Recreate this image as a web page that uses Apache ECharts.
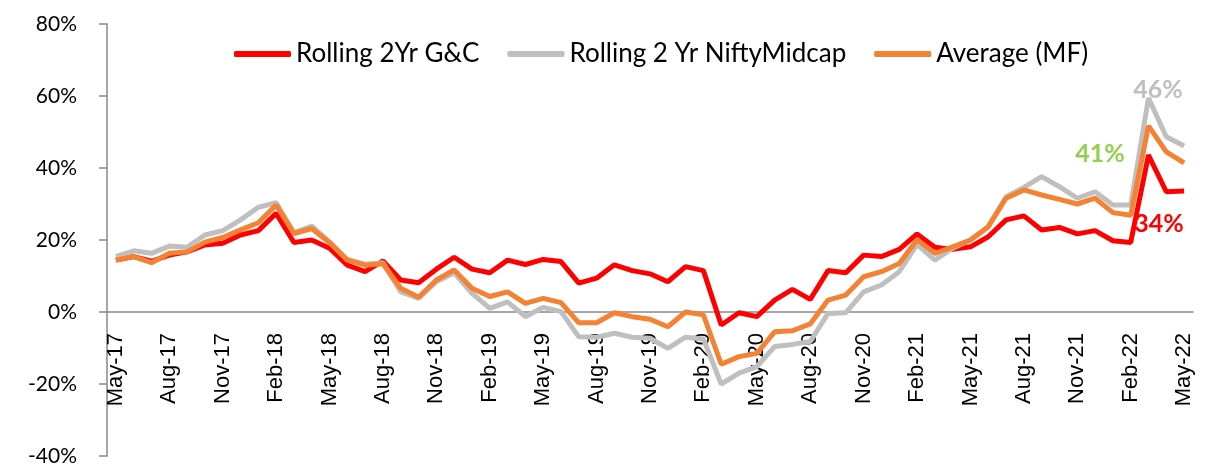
<!DOCTYPE html>
<html>
<head>
<meta charset="utf-8">
<script src="https://cdn.jsdelivr.net/npm/echarts@6/dist/echarts.min.js"></script>
<style>
  body { margin: 0; background: #fff; }
  #chart { width: 1214px; height: 476px; }
</style>
</head>
<body>
<div id="chart"></div>
<script>
const months = [
  'May-17', 'Jun-17', 'Jul-17', 'Aug-17', 'Sep-17', 'Oct-17', 'Nov-17', 'Dec-17', 'Jan-18', 'Feb-18',
  'Mar-18', 'Apr-18', 'May-18', 'Jun-18', 'Jul-18', 'Aug-18', 'Sep-18', 'Oct-18', 'Nov-18', 'Dec-18',
  'Jan-19', 'Feb-19', 'Mar-19', 'Apr-19', 'May-19', 'Jun-19', 'Jul-19', 'Aug-19', 'Sep-19', 'Oct-19',
  'Nov-19', 'Dec-19', 'Jan-20', 'Feb-20', 'Mar-20', 'Apr-20', 'May-20', 'Jun-20', 'Jul-20', 'Aug-20',
  'Sep-20', 'Oct-20', 'Nov-20', 'Dec-20', 'Jan-21', 'Feb-21', 'Mar-21', 'Apr-21', 'May-21', 'Jun-21',
  'Jul-21', 'Aug-21', 'Sep-21', 'Oct-21', 'Nov-21', 'Dec-21', 'Jan-22', 'Feb-22', 'Mar-22', 'Apr-22',
  'May-22'
];

// Rolling 2Yr G&C
const gcData = [
  14.4, 15.4, 14.1, 15.8, 16.7, 18.6, 19.1, 21.4, 22.6, 27.4,
  19.3, 20.0, 17.7, 13.0, 11.2, 14.2, 8.9, 8.1, 11.9, 15.2,
  11.9, 10.9, 14.4, 13.2, 14.6, 14.0, 8.0, 9.4, 13.1, 11.5,
  10.6, 8.4, 12.6, 11.5, -3.6, -0.2, -1.3, 3.3, 6.3, 3.5,
  11.5, 10.9, 15.8, 15.4, 17.4, 21.7, 18.0, 17.4, 18.1, 20.9,
  25.6, 26.7, 22.8, 23.5, 21.7, 22.6, 19.8, 19.3, 43.6, 33.4,
  33.6
];

// Rolling 2 Yr NiftyMidcap
const midcapData = [
  15.4, 17.0, 16.3, 18.3, 18.0, 21.4, 22.6, 25.6, 29.1, 30.4,
  22.0, 23.9, 19.4, 14.6, 13.3, 13.7, 5.6, 3.8, 8.4, 10.9,
  5.2, 1.0, 2.8, -1.3, 1.3, 0.1, -6.9, -7.0, -5.9, -7.0,
  -7.3, -10.1, -7.0, -7.5, -20.0, -17.0, -15.2, -9.6, -9.0, -8.2,
  -0.4, -0.2, 5.6, 7.5, 11.2, 18.8, 14.4, 17.7, 20.0, 23.7,
  32.0, 34.6, 37.6, 34.8, 31.6, 33.4, 29.7, 29.7, 59.4, 48.7,
  46.1
];

// Average (MF)
const avgData = [
  14.4, 15.4, 13.7, 16.3, 16.7, 19.4, 20.7, 22.8, 24.8, 29.7,
  21.8, 23.2, 19.3, 14.4, 13.0, 13.4, 6.6, 4.1, 8.9, 11.7,
  6.6, 4.3, 5.6, 2.4, 3.8, 2.6, -3.0, -3.0, -0.2, -1.3,
  -2.0, -4.1, 0.0, -0.8, -14.5, -12.4, -11.5, -5.5, -5.2, -3.3,
  3.3, 4.7, 9.8, 11.2, 13.5, 20.1, 16.3, 18.1, 20.0, 23.7,
  31.6, 33.9, 32.5, 31.3, 30.0, 31.6, 27.6, 26.9, 51.7, 44.5,
  41.4
];

const yTicks = { min: -40, max: 80, interval: 20 };

const lastIdx = months.length - 1;

// plot height 432px over 120 points -> the zero line sits 40% up from the bottom
const plotHeight = 432;
const zeroOffset = -plotHeight * (0 - yTicks.min) / (yTicks.max - yTicks.min);

function endLabel(data, color, offset) {
  return {
    symbol: 'circle',
    symbolSize: 0,
    silent: true,
    label: {
      show: true,
      position: 'inside',
      offset: offset,
      color: color,
      fontFamily: 'Lato',
      fontWeight: 'bold',
      fontSize: 25,
      formatter: p => Math.round(p.value) + '%'
    },
    data: [{ coord: [lastIdx, data[lastIdx]], value: data[lastIdx] }]
  };
}

let myChart = echarts.init(document.getElementById('chart'));
myChart.setOption({
  animation: false,
  legend: {
    top: 36,
    left: 229,
    itemWidth: 57,
    itemHeight: 6,
    itemGap: 28,
    icon: 'roundRect',
    textStyle: { fontFamily: 'Lato', fontSize: 26, color: '#000' },
    data: ['Rolling 2Yr G&C', 'Rolling 2 Yr NiftyMidcap', 'Average (MF)']
  },
  grid: {
    left: 107,
    right: 21,
    top: 24,
    bottom: 20,
    containLabel: false,
    outerBoundsMode: 'none'
  },
  xAxis: {
    type: 'category',
    data: months,
    boundaryGap: true,
    position: 'bottom',
    offset: zeroOffset,
    axisLine: { onZero: false, lineStyle: { color: '#898989', width: 1.5 } },
    axisTick: { interval: 2, length: 8, lineStyle: { color: '#898989', width: 1.5 } },
    axisLabel: {
      interval: 2,
      rotate: 90,
      margin: 21,
      fontFamily: 'Liberation Sans',
      fontSize: 22,
      color: '#000'
    }
  },
  yAxis: {
    type: 'value',
    min: yTicks.min,
    max: yTicks.max,
    interval: yTicks.interval,
    splitLine: { show: false },
    axisLine: { show: true, lineStyle: { color: '#898989', width: 1.5 } },
    axisTick: { show: true, length: 8, lineStyle: { color: '#898989', width: 1.5 } },
    axisLabel: {
      margin: 30,
      fontFamily: 'Lato',
      fontSize: 21,
      color: '#000',
      formatter: v => v + '%'
    }
  },
  series: [
    {
      name: 'Rolling 2Yr G&C',
      type: 'line',
      data: gcData,
      symbol: 'none',
      lineStyle: { color: '#FF0000', width: 5 },
      itemStyle: { color: '#FF0000' },
      markPoint: endLabel(gcData, '#FF0000', [-25, 33])
    },
    {
      name: 'Rolling 2 Yr NiftyMidcap',
      type: 'line',
      data: midcapData,
      symbol: 'none',
      lineStyle: { color: '#BFBFBF', width: 5 },
      itemStyle: { color: '#BFBFBF' },
      markPoint: endLabel(midcapData, '#BFBFBF', [-26, -56])
    },
    {
      name: 'Average (MF)',
      type: 'line',
      data: avgData,
      symbol: 'none',
      lineStyle: { color: '#F58233', width: 5 },
      itemStyle: { color: '#F58233' },
      markPoint: endLabel(avgData, '#92D050', [-84, -9])
    }
  ]
});
</script>
</body>
</html>
